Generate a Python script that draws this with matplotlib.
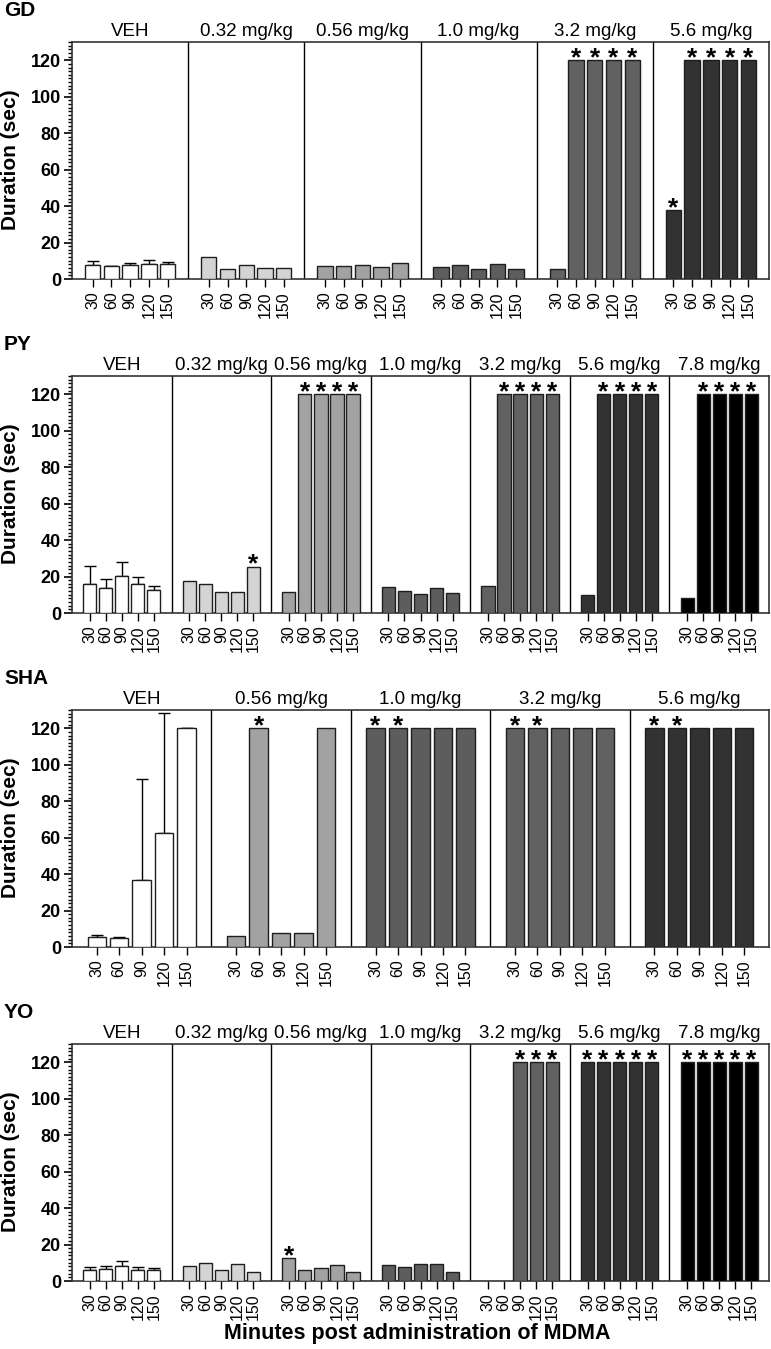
import numpy as np
import matplotlib.pyplot as plt
from matplotlib.ticker import MultipleLocator

plt.rcParams['font.family'] = ['Liberation Sans', 'DejaVu Sans']

# minutes after MDMA, same for every dose group
times = ['30', '60', '90', '120', '150']

# GD
gd_doses = ['VEH', '0.32 mg/kg', '0.56 mg/kg', '1.0 mg/kg', '3.2 mg/kg', '5.6 mg/kg']
gd_values = [[7.5, 7.0, 7.5, 8.0, 8.5],
             [12.0, 5.5, 7.5, 6.0, 6.0],
             [7.0, 7.2, 7.8, 6.8, 9.0],
             [6.8, 7.8, 5.7, 8.0, 5.7],
             [5.5, 120, 120, 120, 120],
             [38.0, 120, 120, 120, 120]]
gd_veh_err = [2.5, 0.3, 1.5, 2.5, 0.7]
gd_stars = [[0, 0, 0, 0, 0], [0, 0, 0, 0, 0], [0, 0, 0, 0, 0],
            [0, 0, 0, 0, 0], [0, 1, 1, 1, 1], [1, 1, 1, 1, 1]]

# PY
py_doses = ['VEH', '0.32 mg/kg', '0.56 mg/kg', '1.0 mg/kg', '3.2 mg/kg', '5.6 mg/kg', '7.8 mg/kg']
py_values = [[15.7, 13.5, 20.5, 15.7, 12.5],
             [17.3, 15.7, 11.7, 11.7, 25.5],
             [11.3, 120, 120, 120, 120],
             [14.0, 12.0, 10.3, 13.7, 11.2],
             [15.0, 120, 120, 120, 120],
             [10.0, 120, 120, 120, 120],
             [8.3, 120, 120, 120, 120]]
py_veh_err = [10.3, 5.0, 7.5, 4.0, 2.2]
py_stars = [[0, 0, 0, 0, 0], [0, 0, 0, 0, 1], [0, 1, 1, 1, 1], [0, 0, 0, 0, 0],
            [0, 1, 1, 1, 1], [0, 1, 1, 1, 1], [0, 1, 1, 1, 1]]

# SHA
sha_doses = ['VEH', '0.56 mg/kg', '1.0 mg/kg', '3.2 mg/kg', '5.6 mg/kg']
sha_values = [[5.5, 5.0, 36.5, 62.5, 120],
              [6.3, 120, 7.7, 7.7, 120],
              [120, 120, 120, 120, 120],
              [120, 120, 120, 120, 120],
              [120, 120, 120, 120, 120]]
sha_veh_err = [1.0, 0.5, 55.5, 66.0, 0.0]
sha_stars = [[0, 0, 0, 0, 0], [0, 1, 0, 0, 0], [1, 1, 0, 0, 0],
             [1, 1, 0, 0, 0], [1, 1, 0, 0, 0]]

# YO
yo_doses = ['VEH', '0.32 mg/kg', '0.56 mg/kg', '1.0 mg/kg', '3.2 mg/kg', '5.6 mg/kg', '7.8 mg/kg']
yo_values = [[6.0, 6.5, 8.3, 6.3, 5.8],
             [8.2, 10.0, 6.3, 9.3, 5.0],
             [12.7, 6.0, 7.0, 8.8, 5.0],
             [9.0, 7.5, 9.5, 9.5, 5.0],
             [0.0, 0.0, 120, 120, 120],
             [120, 120, 120, 120, 120],
             [120, 120, 120, 120, 120]]
yo_veh_err = [1.5, 1.8, 2.5, 1.2, 1.4]
yo_stars = [[0, 0, 0, 0, 0], [0, 0, 0, 0, 0], [1, 0, 0, 0, 0], [0, 0, 0, 0, 0],
            [0, 0, 1, 1, 1], [1, 1, 1, 1, 1], [1, 1, 1, 1, 1]]

dose_colors = {'VEH': '#ffffff', '0.32 mg/kg': '#d4d4d4', '0.56 mg/kg': '#a2a2a2',
               '1.0 mg/kg': '#5d5d5d', '3.2 mg/kg': '#616161',
               '5.6 mg/kg': '#323232', '7.8 mg/kg': '#000000'}

W = 6.2     # width of one dose block in bar slots
OFF = 1.1   # gap before the first bar of a block


def draw_panel(ax, doses, values, veh_err, stars):
    ticks = []
    for g, dose in enumerate(doses):
        xs = g * W + OFF + np.arange(5)
        vals = np.array(values[g])
        keep = vals > 0
        ax.bar(xs[keep], vals[keep], width=0.82, color=dose_colors[dose],
               edgecolor='#1e1e1e', linewidth=1.0, zorder=3)
        if g == 0:
            ax.errorbar(xs, vals, yerr=[np.zeros(5), veh_err], fmt='none',
                        ecolor='black', elinewidth=1.0, capsize=4, capthick=1.0, zorder=2)
        for x, v, s in zip(xs, vals, stars[g]):
            if s:
                ax.text(x, v - 2.8, '*', ha='center', va='baseline',
                        fontsize=19, fontweight='bold', zorder=4)
        if g > 0:
            ax.axvline(g * W, color='black', lw=1.0, zorder=1)
        ax.text(g * W + W / 2, 1.025, dose, transform=ax.get_xaxis_transform(),
                ha='center', va='baseline', fontsize=13.5)
        ticks.extend(xs)

    ax.set_xlim(0, len(doses) * W)
    ax.set_ylim(0, 130)
    ax.set_xticks(ticks)
    ax.set_xticklabels(times * len(doses), rotation=90, fontsize=11.5)
    ax.tick_params(axis='x', length=6, width=1.0, pad=3)
    ax.set_yticks(range(0, 121, 20))
    ax.yaxis.set_minor_locator(MultipleLocator(2))
    ax.tick_params(axis='y', which='major', length=6, width=1.2, labelsize=13, pad=2)
    ax.tick_params(axis='y', which='minor', length=3, width=1.0)
    for lbl in ax.get_yticklabels():
        lbl.set_fontweight('bold')
    for sp in ax.spines.values():
        sp.set_linewidth(1.2)
        sp.set_color('#333333')


fig = plt.figure(figsize=(7.71, 13.49), dpi=100)

panels = [('GD', gd_doses, gd_values, gd_veh_err, gd_stars, 42),
          ('PY', py_doses, py_values, py_veh_err, py_stars, 376),
          ('SHA', sha_doses, sha_values, sha_veh_err, sha_stars, 710),
          ('YO', yo_doses, yo_values, yo_veh_err, yo_stars, 1044)]

H = 1349.0
for letter, doses, values, err, stars, top in panels:
    ax = fig.add_axes([72 / 771, (H - top - 237) / H, 697 / 771, 237 / H])
    draw_panel(ax, doses, values, err, stars)
    fig.text(4 / 771, (H - top + 31) / H, letter, fontsize=15, fontweight='bold',
             ha='left', va='center')
    fig.text(11 / 771, (H - top - 118) / H, 'Duration (sec)', rotation=90,
             fontsize=15, fontweight='bold', ha='center', va='center')

fig.text(417 / 771, (H - 1333) / H, 'Minutes post administration of MDMA',
         fontsize=15.5, fontweight='bold', ha='center', va='center')

plt.savefig('out.png', dpi=100)
